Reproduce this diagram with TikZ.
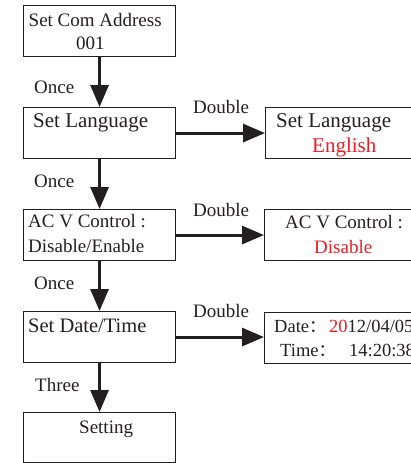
\documentclass[tikz,border=0pt]{standalone}
\usepackage{fontspec}
\setmainfont{Liberation Serif}
\newfontfamily\cjk{Noto Sans CJK SC}
\usetikzlibrary{arrows.meta}
\definecolor{ink}{HTML}{231F20}
\definecolor{redtxt}{HTML}{ED1C24}
\tikzset{
  box/.style={draw=ink, line width=1.1pt, rectangle, inner sep=0pt, minimum width=152pt, minimum height=51pt, anchor=north west},
  rbox/.style={box, minimum width=165pt},
  txt/.style={inner sep=0pt, anchor=base west, text=ink, font=\fontsize{19}{19}\selectfont},
  bigtxt/.style={txt, font=\fontsize{21}{21}\selectfont},
  midtxt/.style={txt, font=\fontsize{20.5}{20.5}\selectfont},
  dtxt/.style={txt, font=\fontsize{18.5}{18.5}\selectfont},
  flow/.style={draw=ink, line width=3pt, -{Triangle[length=22pt,width=18pt]}}
}
\begin{document}
\begin{tikzpicture}[x=1pt,y=1pt]
\useasboundingbox (0,0) rectangle (411,-463);
% left boxes
\node[box] (b1) at (23,-5) {};
\node[box] (b2) at (23,-107) {};
\node[box] (b3) at (23,-209) {};
\node[box] (b4) at (23,-311) {};
\node[box, minimum height=49.5pt] (b5) at (23,-412) {};
% right boxes
\node[rbox] (r2) at (265,-107) {};
\node[rbox] (r3) at (264,-209) {};
\node[rbox] (r4) at (264,-312) {};
% texts in left boxes
\node[txt] (t1a) at (28.5,-27) {Set Com Address};
\node[txt] (t1b) at (76,-49) {001};
\node[bigtxt] (t2) at (33,-127) {Set Language};
\node[txt] (t3a) at (28,-227) {AC V Control :};
\node[txt] (t3b) at (28,-252) {Disable/Enable};
\node[midtxt] (t4) at (28,-332) {Set Date/Time};
\node[txt] (t5) at (79,-433) {Setting};
% texts in right boxes
\node[bigtxt] (u2a) at (276,-127) {Set Language};
\node[bigtxt, text=redtxt] (u2b) at (312,-152) {English};
\node[txt] (u3a) at (285,-228) {AC V Control :};
\node[txt, text=redtxt] (u3b) at (314,-253) {Disable};
\node[dtxt] (u4a) at (274,-332) {Date{\cjk\fontsize{17}{17}\selectfont ：}};
\node[dtxt] (u4b) at (329,-332) {\textcolor{redtxt}{20}12/04/05};
\node[dtxt] (u4c) at (280,-356) {Time{\cjk\fontsize{17}{17}\selectfont ：}};
\node[dtxt] (u4d) at (349,-356) {14:20:38};
% labels
\node[txt] (l1) at (34,-93) {Once};
\node[txt] (l2) at (34,-187) {Once};
\node[txt] (l3) at (34,-289) {Once};
\node[txt] (l4) at (35,-391) {Three};
\node[txt] (d2) at (193,-113) {Double};
\node[txt] (d3) at (193,-216) {Double};
\node[txt] (d4) at (193,-317) {Double};
% arrows
\draw[flow] (b1.south) -- (b2.north);
\draw[flow] (b2.south) -- (b3.north);
\draw[flow] (b3.south) -- (b4.north);
\draw[flow] (b4.south) -- (b5.north);
\draw[flow] (b2.east) -- (b2.east -| r2.west);
\draw[flow] (b3.east) -- (b3.east -| r3.west);
\draw[flow] (b4.east) -- (b4.east -| r4.west);
\end{tikzpicture}
\end{document}
